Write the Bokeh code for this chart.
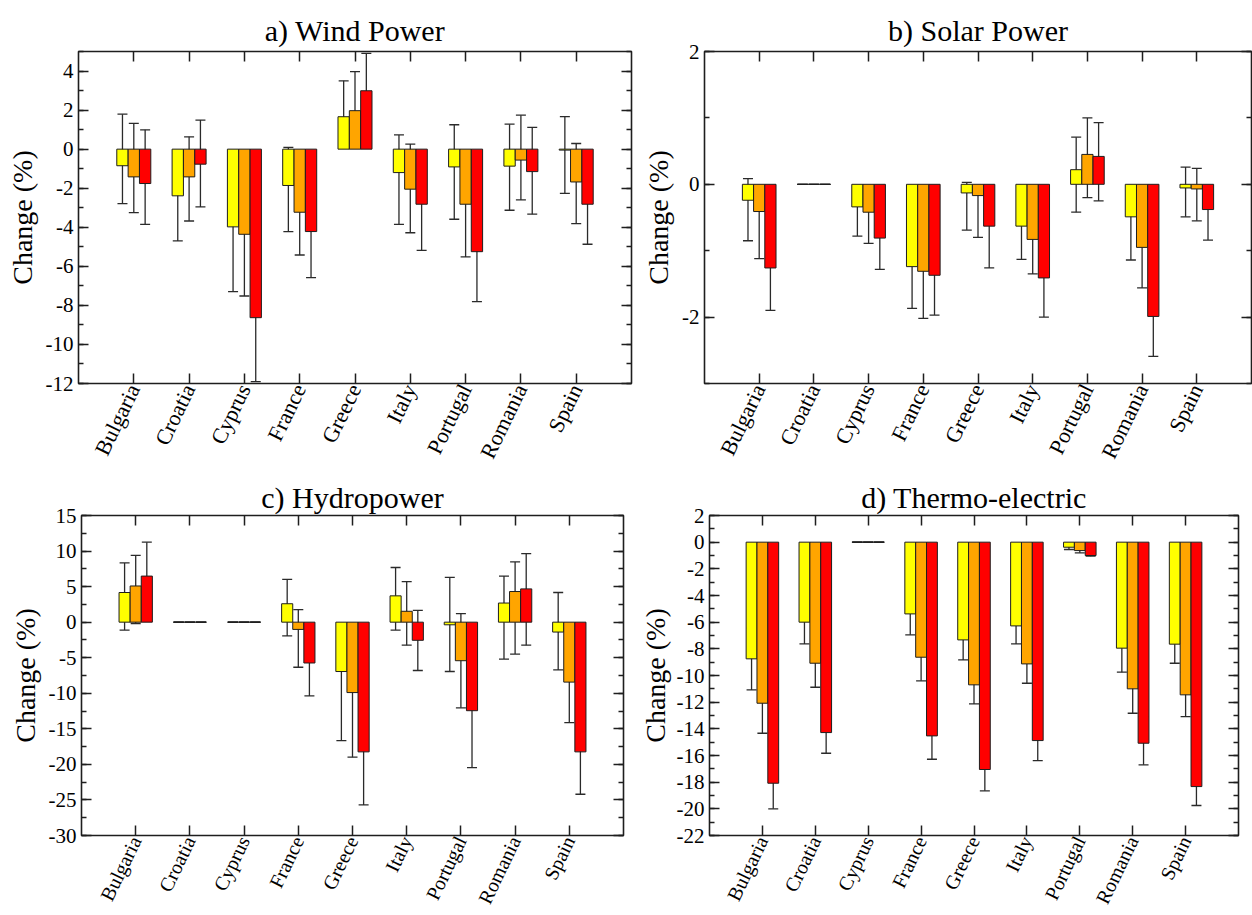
from bokeh.plotting import figure
from bokeh.layouts import column, row
from bokeh.models import (Range1d, FixedTicker, SingleIntervalTicker, LinearAxis,
                          Whisker, TeeHead, ColumnDataSource, CustomJSTickFormatter)
from bokeh.embed import file_html
from bokeh.resources import INLINE

countries = ["Bulgaria", "Croatia", "Cyprus", "France", "Greece", "Italy",
             "Portugal", "Romania", "Spain"]
scenario_colors = ["#ffff00", "#ffa500", "#ff0000"]

# a) Wind Power (% change): bar value, lower and upper end of range
wind_yellow = [-0.85, -2.39, -3.98, -1.86, 1.66, -1.20, -0.91, -0.87, -0.05]
wind_yellow_lo = [-2.79, -4.70, -7.30, -4.22, 0.17, -3.85, -3.59, -3.13, -2.26]
wind_yellow_hi = [1.79, -0.22, -1.11, 0.09, 3.50, 0.73, 1.25, 1.28, 1.67]
wind_orange = [-1.42, -1.42, -4.36, -3.23, 1.97, -2.05, -2.82, -0.56, -1.68]
wind_orange_lo = [-3.25, -3.68, -7.52, -5.42, 0.63, -4.28, -5.52, -2.60, -3.81]
wind_orange_hi = [1.32, 0.63, -1.08, -0.99, 3.97, 0.26, -0.74, 1.74, 0.29]
wind_red = [-1.76, -0.77, -8.63, -4.22, 2.99, -2.82, -5.25, -1.15, -2.82]
wind_red_lo = [-3.85, -2.96, -11.90, -6.58, 1.42, -5.18, -7.81, -3.33, -4.87]
wind_red_hi = [0.99, 1.49, -5.81, -2.02, 4.90, -0.91, -3.16, 1.11, -0.99]

# b) Solar Power
solar_yellow = [-0.24, 0.0, -0.34, -1.24, -0.13, -0.63, 0.22, -0.49, -0.055]
solar_yellow_lo = [-0.85, 0.0, -0.78, -1.87, -0.69, -1.13, -0.42, -1.14, -0.49]
solar_yellow_hi = [0.085, 0.0, -0.21, -0.71, 0.03, -0.37, 0.71, -0.24, 0.26]
solar_orange = [-0.41, 0.0, -0.42, -1.31, -0.17, -0.83, 0.45, -0.95, -0.07]
solar_orange_lo = [-1.12, 0.0, -0.89, -2.02, -0.80, -1.35, -0.20, -1.56, -0.55]
solar_orange_hi = [-0.18, 0.0, -0.30, -0.74, -0.09, -0.58, 1.00, -0.65, 0.24]
solar_red = [-1.26, 0.0, -0.81, -1.37, -0.63, -1.41, 0.42, -1.99, -0.38]
solar_red_lo = [-1.90, 0.0, -1.28, -1.97, -1.26, -2.00, -0.25, -2.59, -0.84]
solar_red_hi = [-1.02, 0.0, -0.62, -0.74, -0.54, -1.18, 0.93, -1.65, -0.05]

# c) Hydropower
hydro_yellow = [4.17, 0.0, 0.0, 2.59, -6.94, 3.70, -0.37, 2.69, -1.39]
hydro_yellow_lo = [-1.11, 0.0, 0.0, -1.94, -16.67, -1.11, -6.94, -5.19, -6.71]
hydro_yellow_hi = [8.33, 0.0, 0.0, 6.02, -2.04, 7.69, 6.30, 6.48, 4.17]
hydro_orange = [5.09, 0.0, 0.0, -1.02, -9.90, 1.53, -5.42, 4.31, -8.43]
hydro_orange_lo = [-0.19, 0.0, 0.0, -6.34, -18.98, -3.24, -12.04, -4.49, -14.12]
hydro_orange_hi = [9.40, 0.0, 0.0, 1.76, -4.58, 5.69, 1.20, 8.47, -3.24]
hydro_red = [6.48, 0.0, 0.0, -5.74, -18.24, -2.55, -12.45, 4.68, -18.24]
hydro_red_lo = [1.30, 0.0, 0.0, -10.37, -25.70, -6.80, -20.46, -3.24, -24.20]
hydro_red_hi = [11.25, 0.0, 0.0, -2.50, -12.00, 1.67, -7.04, 9.63, -13.84]

# d) Thermo-electric
thermo_yellow = [-8.75, -6.00, 0.0, -5.38, -7.33, -6.28, -0.38, -7.95, -7.65]
thermo_yellow_lo = [-11.08, -7.63, 0.0, -6.95, -8.83, -7.63, -0.55, -9.75, -9.08]
thermo_yellow_hi = [-6.45, -4.70, 0.0, -3.90, -5.83, -4.00, -0.15, -6.08, -5.65]
thermo_orange = [-12.08, -9.08, 0.0, -8.63, -10.70, -9.13, -0.63, -11.00, -11.45]
thermo_orange_lo = [-14.33, -10.88, 0.0, -10.40, -12.13, -10.58, -0.80, -12.83, -13.08]
thermo_orange_hi = [-10.00, -7.83, 0.0, -7.05, -9.13, -6.88, -0.38, -9.13, -9.75]
thermo_red = [-18.08, -14.28, 0.0, -14.53, -17.05, -14.88, -1.00, -15.08, -18.33]
thermo_red_lo = [-20.00, -15.83, 0.0, -16.28, -18.65, -16.38, -1.05, -16.70, -19.75]
thermo_red_hi = [-15.58, -12.75, 0.0, -13.33, -15.40, -12.58, -0.70, -13.08, -16.33]

FONT = "Liberation Serif"
INK = "#1e1e1e"
BAR_W = 0.205
OFFSETS = [-BAR_W, 0.0, BAR_W]


def make_panel(title, series, y_start, y_end, interval, width, height,
               ml, mr, mt, mb, title_standoff, label_standoff, xlab_size):
    p = figure(width=width, height=height,
               x_range=Range1d(0, 10), y_range=Range1d(y_start, y_end),
               output_backend="svg", toolbar_location=None, title=title,
               min_border_left=ml, min_border_right=mr,
               min_border_top=mt, min_border_bottom=mb)
    p.title.text_font = FONT
    p.title.text_font_size = "30px"
    p.title.text_font_style = "normal"
    p.title.text_line_height = 1.0
    p.title.align = "center"
    p.title.text_color = "black"
    p.title.standoff = title_standoff
    p.xgrid.visible = False
    p.ygrid.visible = False
    p.outline_line_color = INK
    p.outline_line_width = 1.6
    p.background_fill_color = "white"
    p.border_fill_color = "white"

    xt = FixedTicker(ticks=list(range(1, 10)))
    yt = SingleIntervalTicker(interval=interval, num_minor_ticks=2)

    xa = p.xaxis[0]
    xa.ticker = xt
    xa.major_label_overrides = {i + 1: c for i, c in enumerate(countries)}
    xa.major_label_orientation = 1.12
    xa.major_label_text_font = FONT
    xa.major_label_text_font_size = xlab_size
    xa.major_label_text_color = "black"
    xa.major_label_standoff = 2

    ya = p.yaxis[0]
    ya.ticker = yt
    ya.formatter = CustomJSTickFormatter(code="return tick.toFixed(0);")
    ya.axis_label = "Change (%)"
    ya.axis_label_text_font = FONT
    ya.axis_label_text_font_size = "28px"
    ya.axis_label_text_line_height = 1.0
    ya.axis_label_text_font_style = "normal"
    ya.axis_label_text_color = "black"
    ya.axis_label_standoff = label_standoff
    ya.major_label_text_font = FONT
    ya.major_label_text_font_size = "21px"
    ya.major_label_text_color = "black"
    ya.major_label_standoff = 5

    ra = LinearAxis(ticker=yt, major_label_text_font_size="1px",
                    major_label_text_color=None, major_label_standoff=0,
                    axis_label_standoff=0)
    ta = LinearAxis(ticker=xt, major_label_text_font_size="1px",
                    major_label_text_color=None, major_label_standoff=0,
                    axis_label_standoff=0)
    p.add_layout(ra, "right")
    p.add_layout(ta, "above")

    for ax in (xa, ya, ra, ta):
        ax.axis_line_color = None
        ax.major_tick_in = 10
        ax.major_tick_out = 0
        ax.major_tick_line_color = INK
        ax.major_tick_line_width = 1.5
        ax.minor_tick_in = 5
        ax.minor_tick_out = 0
        ax.minor_tick_line_color = INK
        ax.minor_tick_line_width = 1.5
    for ax in (xa, ta):
        ax.minor_tick_line_color = None

    sources = []
    for (vals, lo, hi), color, off in zip(series, scenario_colors, OFFSETS):
        src = ColumnDataSource(dict(x=[i + 1 + off for i in range(len(countries))],
                                    top=vals, lo=lo, hi=hi))
        p.vbar(x="x", top="top", bottom=0, width=BAR_W, source=src,
               fill_color=color, line_color=INK, line_width=1)
        sources.append(src)
    for src in sources:
        w = Whisker(base="x", upper="hi", lower="lo", source=src,
                    dimension="height", line_color="#2a2a2a", line_width=1.3,
                    upper_head=TeeHead(size=10, line_color="#2a2a2a", line_width=1.3),
                    lower_head=TeeHead(size=10, line_color="#2a2a2a", line_width=1.3))
        p.add_layout(w)
    return p


pa = make_panel("a) Wind Power",
                [(wind_yellow, wind_yellow_lo, wind_yellow_hi),
                 (wind_orange, wind_orange_lo, wind_orange_hi),
                 (wind_red, wind_red_lo, wind_red_hi)],
                -12, 5, 2, 640, 470, 78, 9, 51, 87, 10, 5, "22px")
pb = make_panel("b) Solar Power",
                [(solar_yellow, solar_yellow_lo, solar_yellow_hi),
                 (solar_orange, solar_orange_lo, solar_orange_hi),
                 (solar_red, solar_red_lo, solar_red_hi)],
                -3, 2, 2, 612, 470, 60, 1, 51, 87, 10, 5, "22px")
pc = make_panel("c) Hydropower",
                [(hydro_yellow, hydro_yellow_lo, hydro_yellow_hi),
                 (hydro_orange, hydro_orange_lo, hydro_orange_hi),
                 (hydro_red, hydro_red_lo, hydro_red_hi)],
                -30, 15, 5, 636, 445, 81, 13, 45, 76, 3, 5, "20px")
pd_ = make_panel("d) Thermo-electric",
                 [(thermo_yellow, thermo_yellow_lo, thermo_yellow_hi),
                  (thermo_orange, thermo_orange_lo, thermo_orange_hi),
                  (thermo_red, thermo_red_lo, thermo_red_hi)],
                 -22, 2, 2, 616, 445, 67, 14, 45, 76, 3, 3, "20px")

layout = column(row(pa, pb), row(pc, pd_))
open("out.html", "w").write(file_html(layout, INLINE))
